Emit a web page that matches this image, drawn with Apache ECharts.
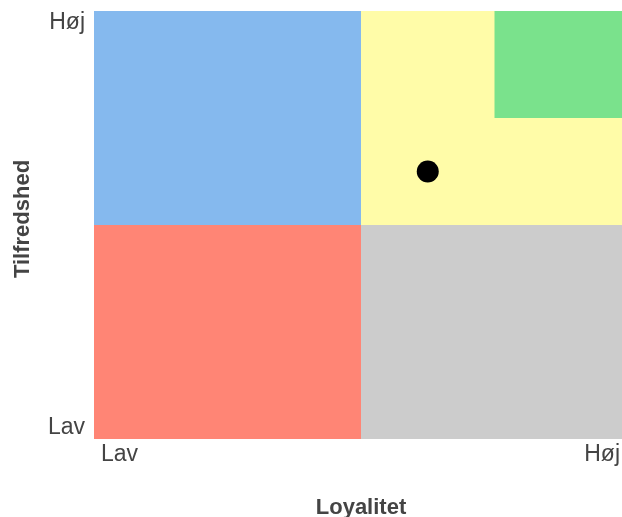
<!DOCTYPE html>
<html>
<head>
<meta charset="utf-8">
<script src="https://cdn.jsdelivr.net/npm/echarts@6/dist/echarts.min.js"></script>
<style>html,body{margin:0;padding:0;background:#fff}#c{width:622px;height:517px}</style>
</head>
<body>
<div id="c"></div>
<script>
// Data
const xTickLabels = ['Lav', 'Høj'];
const yTickLabels = ['Lav', 'Høj'];
const xAxisTitle = 'Loyalitet';
const yAxisTitle = 'Tilfredshed';
const axisMin = 0;
const axisMax = 4;
// regions: [x0, x1, y0, y1]
const regionBounds = [
  [0, 2, 2, 4],
  [2, 4, 2, 4],
  [0, 2, 0, 2],
  [2, 4, 0, 2],
  [3, 4, 3, 4]
];
const regionColors = ['#85b9ee', '#fffca8', '#ff8575', '#cccccc', '#7ae28c'];
const points = [[2.5, 2.5]];

const FONT = '"Liberation Sans", Arial, sans-serif';
const chart = echarts.init(document.getElementById('c'));

chart.setOption({
  animation: false,
  grid: { left: 94, width: 534, top: 11, height: 428, containLabel: false, outerBoundsMode: 'none' },
  xAxis: {
    type: 'value', min: axisMin, max: axisMax, interval: axisMax - axisMin,
    name: xAxisTitle, nameLocation: 'middle', nameGap: 58,
    nameTextStyle: { fontFamily: FONT, fontSize: 22, fontWeight: 'bold', color: '#444' },
    axisLine: { show: false }, axisTick: { show: false }, splitLine: { show: false },
    axisLabel: {
      fontFamily: FONT, fontSize: 23, color: '#444', margin: 4,
      alignMinLabel: 'left', alignMaxLabel: 'right',
      formatter: v => v === axisMin ? '{l|' + xTickLabels[0] + '}' : (v === axisMax ? '{r|' + xTickLabels[1] + '}' : ''),
      rich: {
        l: { fontFamily: FONT, fontSize: 23, color: '#444', padding: [0, 0, 0, 7] },
        r: { fontFamily: FONT, fontSize: 23, color: '#444', padding: [0, 8, 0, 0] }
      }
    }
  },
  yAxis: {
    type: 'value', min: axisMin, max: axisMax, interval: axisMax - axisMin,
    name: yAxisTitle, nameLocation: 'middle', nameGap: 60, nameRotate: 90,
    nameTextStyle: { fontFamily: FONT, fontSize: 22, fontWeight: 'bold', color: '#444', padding: [0, 0, 0, 12] },
    axisLine: { show: false }, axisTick: { show: false }, splitLine: { show: false },
    axisLabel: {
      fontFamily: FONT, fontSize: 23, color: '#444', margin: 9,
      verticalAlignMinLabel: 'bottom', verticalAlignMaxLabel: 'top',
      formatter: v => v === axisMin ? yTickLabels[0] : (v === axisMax ? yTickLabels[1] : '')
    }
  },
  series: [{
    type: 'scatter',
    data: points,
    symbolSize: 22,
    itemStyle: { color: '#000', opacity: 1 },
    z: 10,
    markArea: {
      silent: true,
      data: regionBounds.map((b, i) => [
        { xAxis: b[0], yAxis: b[2], itemStyle: { color: regionColors[i], opacity: 1 } },
        { xAxis: b[1], yAxis: b[3] }
      ])
    }
  }]
});
</script>
</body>
</html>
